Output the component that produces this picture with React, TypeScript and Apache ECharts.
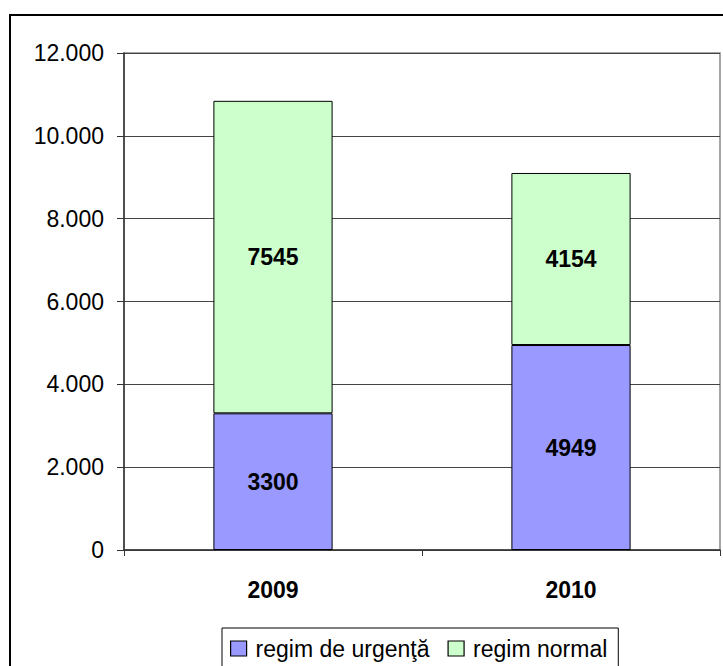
import React, { useEffect, useRef } from "react";
import * as echarts from "echarts";

const categories = ["2009", "2010"];
const urgenta = [3300, 4949];
const normal = [7545, 4154];
const seriesNames = ["regim de urgenţă", "regim normal"];

export default function App() {
  const ref = useRef<HTMLDivElement>(null);
  useEffect(() => {
    const chart = echarts.init(ref.current!, null, { renderer: "svg" });
    const font = "'Liberation Sans', Arial, sans-serif";
    chart.setOption({
      animation: false,
      backgroundColor: "#fff",
      textStyle: { fontFamily: font },
      grid: { left: 124, top: 53, right: 3, bottom: 116, show: true, borderColor: "#888", borderWidth: 1.5 },
      legend: {
        top: 628,
        left: 222,
        itemWidth: 16,
        itemHeight: 15,
        itemGap: 18,
        padding: [9, 11, 9, 8],
        borderColor: "#000",
        borderWidth: 1,
        icon: "rect",
        textStyle: { fontSize: 23, color: "#000", fontFamily: font, padding: [0, 0, 0, 4] },
        data: seriesNames.map((n) => ({ name: n, itemStyle: { borderColor: "#000", borderWidth: 1.2 } })),
      },
      xAxis: {
        type: "category",
        data: categories,
        axisLine: { lineStyle: { color: "#333", width: 1.5 } },
        axisTick: { show: true, length: 6, lineStyle: { color: "#333" } },
        axisLabel: { fontSize: 23, fontWeight: "bold", color: "#000", margin: 28, fontFamily: font },
      },
      yAxis: {
        type: "value",
        min: 0,
        max: 12000,
        interval: 2000,
        axisLine: { show: true, lineStyle: { color: "#333", width: 1.5 } },
        axisTick: { show: true, length: 7, lineStyle: { color: "#333" } },
        splitLine: { lineStyle: { color: "#444", width: 1 } },
        axisLabel: {
          fontSize: 23,
          color: "#000",
          margin: 20,
          fontFamily: font,
          formatter: (v: number) => (v === 0 ? "0" : v.toLocaleString("de-DE")),
        },
      },
      series: [
        {
          name: seriesNames[0],
          type: "bar",
          stack: "total",
          data: urgenta,
          barWidth: "40%",
          itemStyle: { color: "#9999FF", borderColor: "#000", borderWidth: 1 },
          label: { show: true, position: "inside", fontSize: 23, fontWeight: "bold", color: "#000", fontFamily: font },
        },
        {
          name: seriesNames[1],
          type: "bar",
          stack: "total",
          data: normal,
          barWidth: "40%",
          itemStyle: { color: "#CCFFCC", borderColor: "#000", borderWidth: 1 },
          label: { show: true, position: "inside", fontSize: 23, fontWeight: "bold", color: "#000", fontFamily: font },
        },
      ],
      graphic: [
        {
          type: "rect",
          shape: { x: 10, y: 15, width: 740, height: 700 },
          style: { fill: "none", stroke: "#000", lineWidth: 2 },
          silent: true,
          z: 100,
        },
      ],
    });
    return () => chart.dispose();
  }, []);
  return (
    <div
      ref={ref}
      style={{ position: "fixed", left: 0, top: 0, width: 723, height: 666 }}
    />
  );
}
